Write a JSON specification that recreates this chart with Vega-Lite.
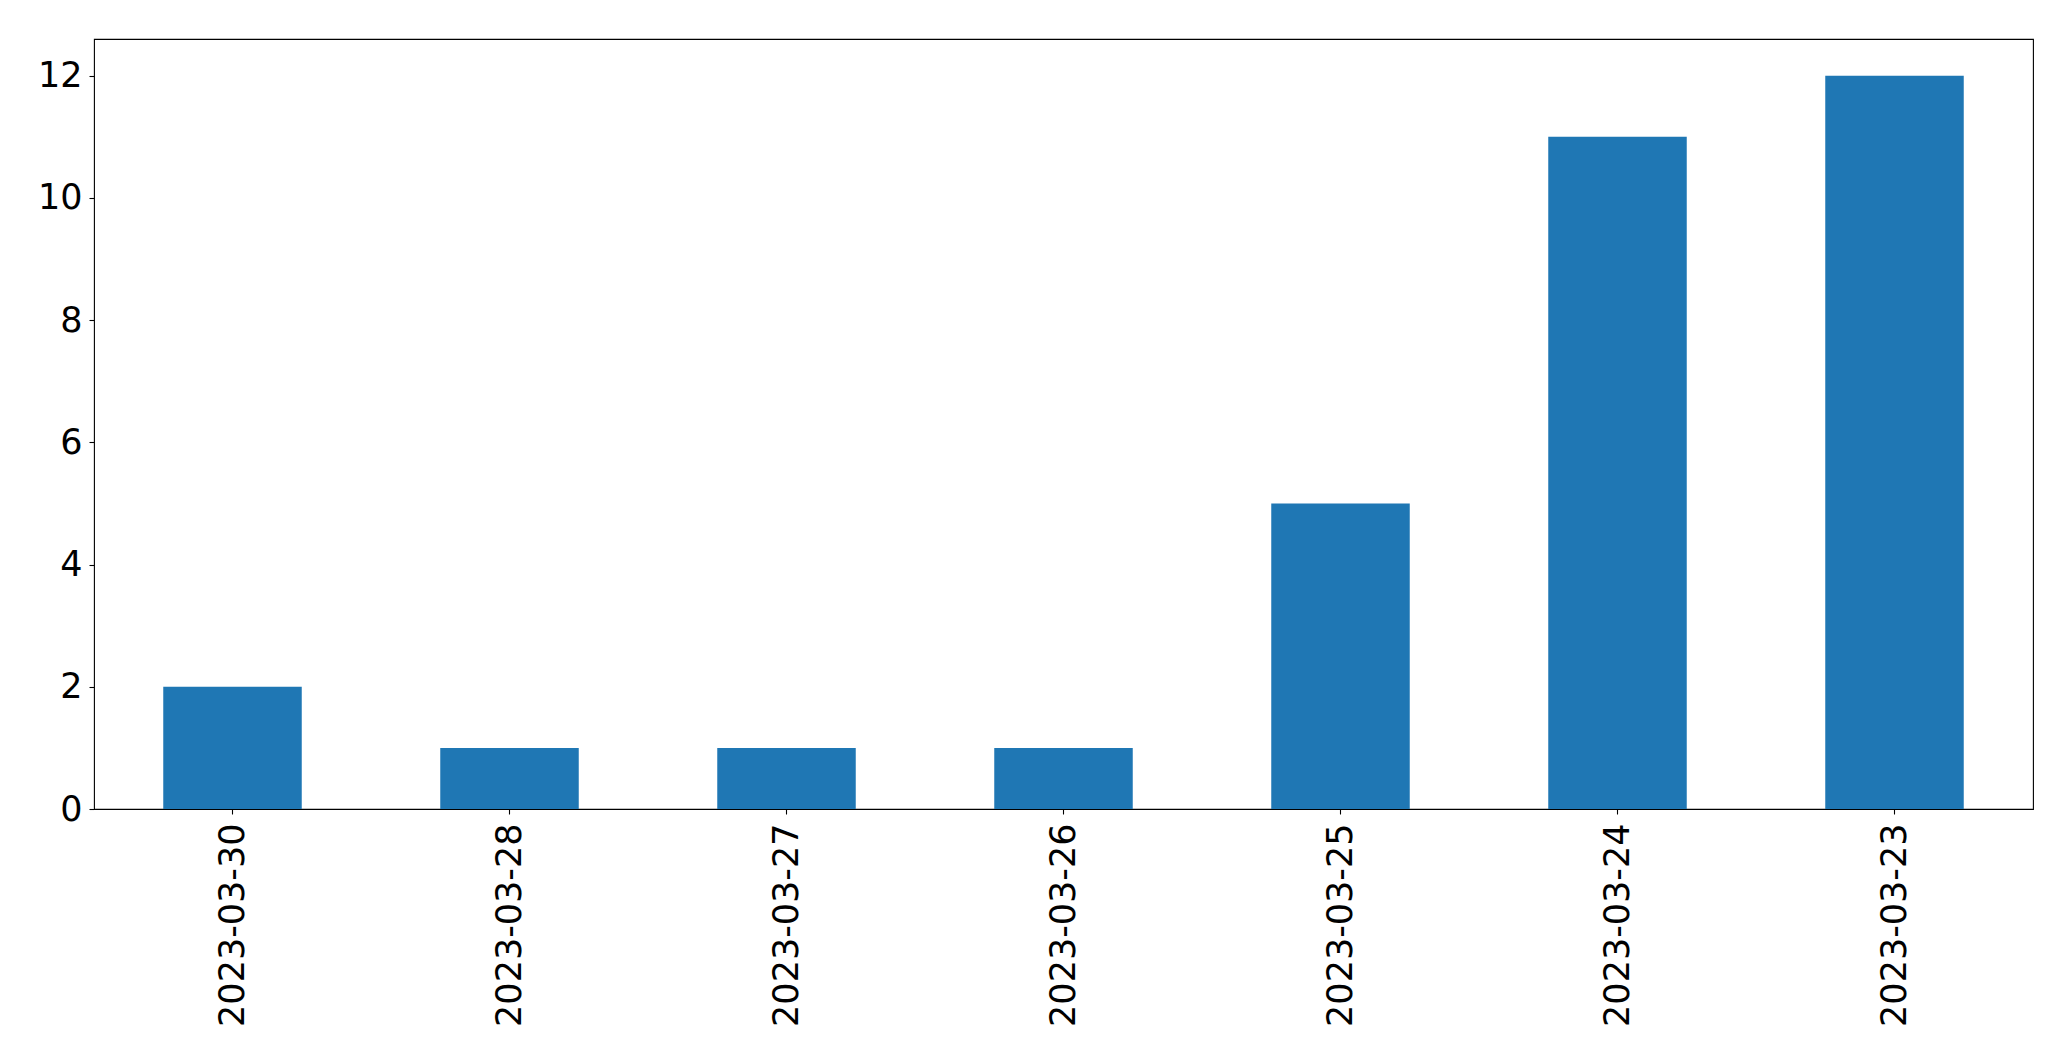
{
  "$schema": "https://vega.github.io/schema/vega-lite/v6.json",
  "width": 1939,
  "height": 770,
  "autosize": {"type": "none"},
  "padding": {"left": 94, "top": 39, "right": 38, "bottom": 252},
  "background": "white",
  "config": {
    "view": {"stroke": "black", "strokeWidth": 1.1},
    "axis": {
      "grid": false,
      "domain": false,
      "tickColor": "black",
      "tickWidth": 1.1,
      "tickSize": 5,
      "labelFont": "DejaVu Sans",
      "labelFontSize": 35,
      "labelColor": "black",
      "labelLimit": 0,
      "title": null
    }
  },
  "data": {
    "values": [
      {"date": "2023-03-30", "count": 2},
      {"date": "2023-03-28", "count": 1},
      {"date": "2023-03-27", "count": 1},
      {"date": "2023-03-26", "count": 1},
      {"date": "2023-03-25", "count": 5},
      {"date": "2023-03-24", "count": 11},
      {"date": "2023-03-23", "count": 12}
    ]
  },
  "mark": {"type": "bar", "color": "#1f77b4"},
  "encoding": {
    "x": {
      "field": "date",
      "type": "nominal",
      "sort": null,
      "scale": {"paddingInner": 0.5, "paddingOuter": 0.25},
      "axis": {"labelAngle": 270, "labelPadding": 9}
    },
    "y": {
      "field": "count",
      "type": "quantitative",
      "scale": {"domain": [0, 12.6], "nice": false},
      "axis": {"values": [0, 2, 4, 6, 8, 10, 12], "labelPadding": 7}
    }
  }
}
